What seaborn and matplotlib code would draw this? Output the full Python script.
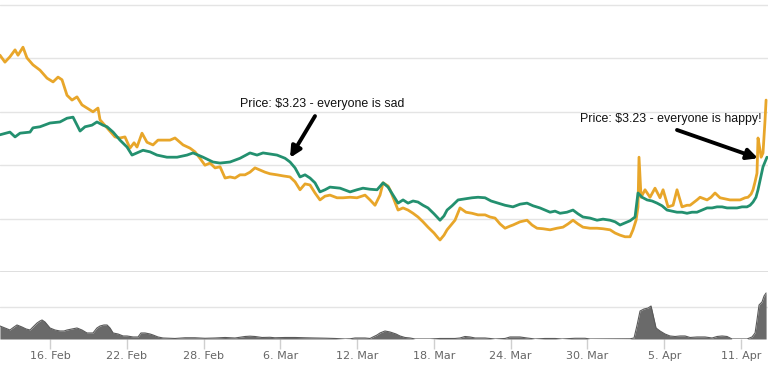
import numpy as np
import pandas as pd
import matplotlib
matplotlib.use("Agg")
import matplotlib.pyplot as plt
import seaborn as sns

# ---- data (days since 2017-02-12) ----
usd_days = [0.09, 0.87, 1.27, 1.66, 2.44, 2.67, 3.22, 4.00, 4.78, 5.33, 5.80, 6.35, 6.74, 7.28,
            7.67, 8.14, 8.46, 8.93, 9.47, 10.02, 10.41, 10.80, 11.27, 11.82, 12.36, 13.14, 13.93,
            14.71, 15.18, 15.96, 16.74, 17.29, 18.07, 18.85, 19.63, 20.18, 20.65, 21.19, 21.74,
            22.37, 22.76, 23.15, 23.54, 23.93, 24.32, 24.71, 25.10, 25.49, 25.88, 26.67, 27.45,
            27.99, 28.46, 29.01, 29.56, 30.03, 30.42, 30.81, 31.20, 31.59, 31.98, 32.37, 32.76,
            33.15, 33.54, 34.01, 34.48, 34.79, 35.03, 35.42, 35.89, 36.43, 36.98, 37.45, 38.00,
            38.47, 39.01, 39.56, 40.18, 40.73, 41.28, 41.75, 42.29, 42.69, 43.08, 43.47, 43.86,
            44.40, 44.87, 45.26, 45.65, 46.20, 46.75, 47.22, 47.77, 48.16, 48.55, 48.94, 49.33,
            49.72, 49.95, 50.27, 50.66, 51.05, 51.44, 51.83, 52.22, 52.61, 53.00, 53.39, 53.78,
            54.17, 54.56, 54.96, 55.35, 55.74, 56.13, 56.52, 56.91, 57.30, 57.69, 58.08, 58.47,
            58.71, 58.94, 59.17, 59.33, 59.49, 59.72, 60.03]
usd_price = [3.57, 3.62, 3.53, 3.60, 3.62, 3.70, 3.72, 3.79, 3.81, 3.88, 3.90, 3.64, 3.72, 3.75,
             3.81, 3.75, 3.72, 3.62, 3.47, 3.34, 3.19, 3.23, 3.28, 3.25, 3.19, 3.15, 3.15,
             3.19, 3.23, 3.15, 3.06, 3.04, 3.06, 3.13, 3.23, 3.19, 3.23, 3.21, 3.19,
             3.13, 3.06, 2.95, 2.78, 2.82, 2.76, 2.67, 2.50, 2.54, 2.59, 2.57, 2.50,
             2.54, 2.57, 2.55, 2.54, 2.67, 2.59, 2.44, 2.29, 2.35, 2.29, 2.33, 2.31,
             2.25, 2.20, 2.09, 1.97, 2.05, 2.16, 2.24, 2.35, 2.37, 2.39, 2.40, 2.39,
             2.33, 2.29, 2.25, 2.22, 2.27, 2.29, 2.24, 2.20, 2.16, 2.12, 2.14, 2.10,
             2.12, 2.16, 2.09, 2.03, 2.01, 1.97, 1.99, 1.97, 1.94, 1.88, 1.92, 1.96,
             2.03, 2.48, 2.40, 2.35, 2.33, 2.29, 2.24, 2.16, 2.14, 2.12, 2.12, 2.10,
             2.12, 2.12, 2.16, 2.20, 2.20, 2.22, 2.22, 2.20, 2.20, 2.20, 2.22, 2.22,
             2.25, 2.31, 2.40, 2.54, 2.72, 2.97, 3.15]

btc_days = [0.09, 0.48, 0.87, 1.27, 1.50, 1.89, 2.20, 2.67, 3.22, 3.77, 4.24, 4.63, 4.94, 5.33,
            5.72, 6.11, 6.50, 6.89, 7.36, 7.75, 7.91, 8.46, 9.08, 9.47, 9.86, 10.25, 10.57, 10.80,
            11.19, 11.58, 12.05, 12.44, 12.83, 13.38, 13.77, 14.40, 14.94, 15.33, 15.72, 16.11,
            16.51, 16.90, 17.29, 17.68, 18.07, 18.46, 18.85, 19.24, 19.63, 20.02, 20.41, 20.80,
            21.19, 21.74, 22.21, 22.76, 23.15, 23.54, 23.93, 24.32, 24.71, 25.10, 25.49, 25.88,
            26.43, 26.90, 27.45, 27.99, 28.62, 29.01, 29.40, 29.79, 30.03, 30.42, 30.57, 30.89,
            31.20, 31.59, 31.98, 32.37, 32.76, 33.15, 33.54, 34.01, 34.32, 34.48, 34.79, 35.03,
            35.34, 35.65, 36.04, 36.51, 36.98, 37.45, 38.00, 38.39, 38.78, 39.17, 39.56, 39.95,
            40.18, 40.73, 41.28, 41.67, 42.06, 42.53, 43.08, 43.62, 44.09, 44.48, 44.87, 45.26,
            45.65, 46.20, 46.75, 47.22, 47.77, 48.16, 48.55, 48.94, 49.33, 49.56, 49.80, 49.95,
            50.03, 50.19, 50.50, 50.89, 51.28, 51.67, 51.91, 52.30, 52.69, 53.00, 53.39, 53.78,
            54.02, 54.56, 54.80, 55.35, 55.66, 55.97, 56.36, 56.75, 57.14, 57.53, 57.93, 58.32,
            58.55, 58.79, 58.94, 59.10, 59.25, 59.33, 59.49, 59.57, 59.72, 59.88, 59.96]
btc_price = [5.06, 4.93, 5.03, 5.16, 5.06, 5.21, 5.01, 4.88, 4.78, 4.63, 4.56, 4.65, 4.60, 4.31,
             4.22, 4.28, 4.13, 4.07, 4.00, 4.07, 3.85, 3.70, 3.53, 3.51, 3.53, 3.32, 3.42, 3.34,
             3.60, 3.43, 3.38, 3.47, 3.47, 3.47, 3.51, 3.38, 3.32, 3.25, 3.13, 3.00,
             3.04, 2.95, 2.97, 2.76, 2.78, 2.76, 2.82, 2.82, 2.87, 2.95, 2.91, 2.87,
             2.84, 2.82, 2.80, 2.78, 2.69, 2.54, 2.65, 2.63, 2.48, 2.35, 2.42, 2.44,
             2.39, 2.39, 2.40, 2.39, 2.44, 2.35, 2.25, 2.44, 2.67, 2.61, 2.54, 2.35,
             2.16, 2.20, 2.16, 2.10, 2.03, 1.94, 1.84, 1.73, 1.64, 1.60, 1.69, 1.79,
             1.88, 1.97, 2.20, 2.12, 2.10, 2.07, 2.07, 2.03, 2.01, 1.90, 1.82, 1.86,
             1.88, 1.94, 1.97, 1.88, 1.82, 1.81, 1.79, 1.82, 1.84, 1.90, 1.97, 1.90,
             1.84, 1.82, 1.82, 1.81, 1.79, 1.73, 1.69, 1.66, 1.66, 1.79, 1.97, 2.22,
             3.15, 2.40, 2.54, 2.40, 2.57, 2.39, 2.54, 2.22, 2.25, 2.54, 2.22, 2.25,
             2.25, 2.35, 2.40, 2.35, 2.40, 2.48, 2.39, 2.37, 2.35, 2.35, 2.35, 2.39,
             2.40, 2.46, 2.54, 2.69, 2.85, 3.51, 3.28, 3.15, 3.23, 3.85, 4.22]

vol_days = [0.09, 0.48, 0.87, 1.19, 1.42, 1.81, 2.13, 2.44, 2.75, 2.99, 3.22, 3.38, 3.61, 4.00,
            4.39, 4.78, 5.10, 5.33, 5.72, 6.11, 6.50, 6.89, 7.36, 7.67, 7.91, 8.22, 8.46, 8.69,
            8.93, 9.32, 9.71, 10.02, 10.49, 10.88, 11.11, 11.43, 11.82, 12.05, 12.44, 12.83,
            13.77, 14.55, 15.33, 16.11, 16.90, 17.68, 18.46, 19.24, 19.63, 20.02, 20.57, 21.19,
            21.58, 22.37, 23.15, 23.93, 24.71, 25.49, 26.27, 27.06, 27.45, 27.84, 28.62, 29.01,
            29.24, 29.56, 29.79, 30.18, 30.57, 31.04, 31.35, 31.74, 32.14, 32.53, 33.70, 34.48,
            35.65, 36.04, 36.43, 36.82, 37.22, 38.00, 38.78, 39.56, 39.95, 40.73, 41.28, 41.90,
            42.69, 43.47, 44.01, 45.03, 45.81, 46.20, 49.33, 49.64, 49.88, 50.11, 50.42, 50.74,
            50.97, 51.13, 51.36, 51.67, 52.06, 52.45, 52.85, 53.24, 53.63, 54.02, 54.56, 55.19,
            55.74, 56.13, 56.52, 56.91, 57.30, 58.47, 58.86, 59.10, 59.25, 59.41, 59.64, 59.80,
            59.96]
volume = [406, 344, 281, 375, 438, 375, 313, 281, 406, 500, 563, 594, 531, 344,
          281, 250, 250, 281, 313, 344, 281, 188, 188, 344, 406, 438, 438, 344,
          188, 156, 94, 94, 63, 63, 188, 188, 156, 125, 63, 31,
          16, 38, 38, 22, 31, 47, 31, 78, 88, 78, 47, 53,
          38, 47, 47, 38, 31, 25, 16, 0, 6, 31, 31, 16,
          63, 125, 188, 250, 219, 156, 94, 47, 31, 0, 0, 16,
          16, 31, 78, 63, 31, 31, 0, 16, 63, 63, 31, 0,
          16, 16, 0, 22, 22, 0, 6, 31, 438, 875, 938, 969,
          1031, 750, 344, 250, 156, 94, 78, 94, 94, 47, 63, 63,
          31, 78, 94, 78, 0, 0, 63, 188, 594, 1063, 1156, 1344,
          1438]

tick_dates = ["2017-02-16", "2017-02-22", "2017-02-28", "2017-03-06", "2017-03-12",
              "2017-03-18", "2017-03-24", "2017-03-30", "2017-04-05", "2017-04-11"]
tick_labels = ["16. Feb", "22. Feb", "28. Feb", "6. Mar", "12. Mar",
               "18. Mar", "24. Mar", "30. Mar", "5. Apr", "11. Apr"]

note_sad = "Price: $3.23 - everyone is sad"
note_happy = "Price: $3.23 - everyone is happy!"

# ---- build frames ----
base = pd.Timestamp("2017-02-12")


def to_time(days):
    return base + pd.to_timedelta(np.asarray(days, dtype=float), unit="D")


df_usd = pd.DataFrame({"time": to_time(usd_days), "price": usd_price})
df_btc = pd.DataFrame({"time": to_time(btc_days), "price": btc_price})
df_vol = pd.DataFrame({"time": to_time(vol_days), "volume": volume})

sns.set_style("white")
plt.rcParams["font.family"] = ["DejaVu Sans"]

ORANGE = "#E8A62A"
TEAL = "#23906F"
GRID = "#e4e4e4"

fig = plt.figure(figsize=(7.68, 3.66), dpi=100)
ax = fig.add_axes([0, 0.2568, 1, 0.7295])
axv = fig.add_axes([0, 0.0738, 1, 0.1830])

xlim = (base + pd.Timedelta(days=0.094), base + pd.Timedelta(days=60.11))

# price panel
for v in [2, 3, 4, 5, 6]:
    ax.axhline(v, color=GRID, lw=1.0, zorder=0, clip_on=False)
ax.axhline(1, color="#dcdcdc", lw=2.0, zorder=0, clip_on=False)
sns.lineplot(data=df_btc, x="time", y="price", ax=ax, color=ORANGE, lw=2.0,
             estimator=None, sort=False)
sns.lineplot(data=df_usd, x="time", y="price", ax=ax, color=TEAL, lw=2.0,
             estimator=None, sort=False)
ax.set_xlim(*xlim)
ax.set_ylim(1, 6)
ax.set_xlabel("")
ax.set_ylabel("")
ax.tick_params(left=False, bottom=False, labelleft=False, labelbottom=False)
for s in ax.spines.values():
    s.set_visible(False)

# annotations
t_sad = base + pd.Timedelta(days=22.76)
t_happy = base + pd.Timedelta(days=59.33)
ax.annotate("", xy=(t_sad, 3.14), xytext=(base + pd.Timedelta(days=24.71), 3.92),
            arrowprops=dict(arrowstyle="-|>", color="black", lw=2.8, mutation_scale=16,
                            shrinkA=0, shrinkB=0))
ax.annotate("", xy=(t_happy, 3.13), xytext=(base + pd.Timedelta(days=53.0), 3.66),
            arrowprops=dict(arrowstyle="-|>", color="black", lw=2.8, mutation_scale=16,
                            shrinkA=0, shrinkB=0))
ax.text(base + pd.Timedelta(days=18.85), 4.15, note_sad, fontsize=8.9,
        family=["Liberation Sans", "DejaVu Sans"], va="center", ha="left", color="#111111")
ax.text(base + pd.Timedelta(days=45.42), 3.87, note_happy, fontsize=8.9,
        family=["Liberation Sans", "DejaVu Sans"], va="center", ha="left", color="#111111")

# volume panel
axv.axhline(1000, color=GRID, lw=1.0, zorder=0)
axv.fill_between(df_vol["time"], df_vol["volume"], color="#6a6a6a", lw=0, zorder=2)
sns.lineplot(data=df_vol, x="time", y="volume", ax=axv, color="#5a5a5a", lw=0.8,
             estimator=None, sort=False, zorder=3)
axv.set_xlim(*xlim)
axv.set_ylim(0, 2094)
axv.set_xlabel("")
axv.set_ylabel("")
axv.set_xticks(pd.to_datetime(tick_dates))
axv.set_xticklabels(tick_labels)
axv.tick_params(axis="x", bottom=True, direction="out", length=7, width=1,
                color="#cfcfcf", labelcolor="#666666", labelsize=8, pad=2)
axv.tick_params(axis="y", left=False, labelleft=False)
for s in axv.spines.values():
    s.set_visible(False)

fig.savefig("out.png", dpi=100)
